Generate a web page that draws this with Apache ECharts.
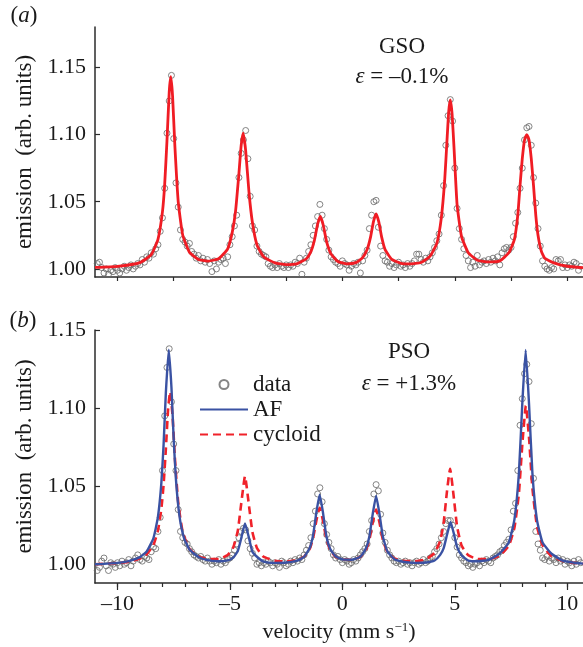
<!DOCTYPE html>
<html><head><meta charset="utf-8">
<script src="https://cdn.jsdelivr.net/npm/echarts@6/dist/echarts.min.js"></script>
<style>html,body{margin:0;padding:0;background:#fff}#c{width:583px;height:647px}</style>
</head><body><div id="c"></div>
<script>
// velocity channels (mm/s) shared by both measured spectra
const velocity = [
-10.9,-10.8,-10.7,-10.6,-10.5,-10.4,-10.3,-10.2,-10.1,-10.0,
-9.9,-9.8,-9.7,-9.6,-9.5,-9.4,-9.3,-9.2,-9.1,-9.0,
-8.9,-8.8,-8.7,-8.6,-8.5,-8.4,-8.3,-8.2,-8.1,-8.0,
-7.9,-7.8,-7.7,-7.6,-7.5,-7.4,-7.3,-7.2,-7.1,-7.0,
-6.9,-6.8,-6.7,-6.6,-6.5,-6.4,-6.3,-6.2,-6.1,-6.0,
-5.9,-5.8,-5.7,-5.6,-5.5,-5.4,-5.3,-5.2,-5.1,-5.0,
-4.9,-4.8,-4.7,-4.6,-4.5,-4.4,-4.3,-4.2,-4.1,-4.0,
-3.9,-3.8,-3.7,-3.6,-3.5,-3.4,-3.3,-3.2,-3.1,-3.0,
-2.9,-2.8,-2.7,-2.6,-2.5,-2.4,-2.3,-2.2,-2.1,-2.0,
-1.9,-1.8,-1.7,-1.6,-1.5,-1.4,-1.3,-1.2,-1.1,-1.0,
-0.9,-0.8,-0.7,-0.6,-0.5,-0.4,-0.3,-0.2,-0.1,0.0,
0.1,0.2,0.3,0.4,0.5,0.6,0.7,0.8,0.9,1.0,
1.1,1.2,1.3,1.4,1.5,1.6,1.7,1.8,1.9,2.0,
2.1,2.2,2.3,2.4,2.5,2.6,2.7,2.8,2.9,3.0,
3.1,3.2,3.3,3.4,3.5,3.6,3.7,3.8,3.9,4.0,
4.1,4.2,4.3,4.4,4.5,4.6,4.7,4.8,4.9,5.0,
5.1,5.2,5.3,5.4,5.5,5.6,5.7,5.8,5.9,6.0,
6.1,6.2,6.3,6.4,6.5,6.6,6.7,6.8,6.9,7.0,
7.1,7.2,7.3,7.4,7.5,7.6,7.7,7.8,7.9,8.0,
8.1,8.2,8.3,8.4,8.5,8.6,8.7,8.8,8.9,9.0,
9.1,9.2,9.3,9.4,9.5,9.6,9.7,9.8,9.9,10.0,
10.1,10.2,10.3,10.4,10.5,10.6];

// (a) GSO measured emission
const gsoData = [
1.004,1.005,1.001,0.997,1.000,0.996,0.999,0.998,1.001,0.999,
0.997,1.000,1.002,0.999,1.001,1.003,1.000,1.002,1.004,1.003,
1.007,1.005,1.009,1.008,1.012,1.011,1.015,1.018,1.028,1.038,
1.060,1.101,1.125,1.144,1.097,1.064,1.046,1.029,1.022,1.020,
1.017,1.019,1.013,1.011,1.008,1.010,1.006,1.008,1.005,1.007,
1.004,0.998,1.006,1.000,1.005,1.007,1.008,1.004,1.009,1.018,
1.024,1.032,1.040,1.068,1.086,1.096,1.103,1.082,1.054,1.032,
1.029,1.017,1.013,1.011,1.010,1.009,1.004,1.002,1.001,1.003,
1.001,1.004,1.002,1.001,1.003,1.001,1.003,1.002,1.005,1.004,
1.008,0.996,1.005,1.008,1.013,1.018,1.025,1.032,1.039,1.048,
1.040,1.030,1.022,1.014,1.009,1.007,1.005,1.004,1.002,1.006,
1.004,1.003,0.999,1.002,1.004,1.003,1.005,0.997,1.006,1.010,
1.014,1.030,1.040,1.050,1.051,1.031,1.017,1.010,1.006,1.005,
1.002,1.004,1.001,1.003,1.005,1.002,1.003,1.001,1.004,1.002,
1.004,1.006,1.011,1.011,1.007,1.005,1.008,1.006,1.009,1.012,
1.016,1.021,1.026,1.040,1.062,1.092,1.114,1.126,1.110,1.075,
1.045,1.030,1.022,1.015,1.010,1.006,1.001,1.005,1.002,1.010,
1.003,1.005,1.006,1.004,1.007,1.005,1.008,1.006,1.009,1.003,
1.012,1.015,1.016,1.014,1.016,1.024,1.034,1.042,1.060,1.075,
1.096,1.105,1.106,1.092,1.068,1.049,1.030,1.017,1.006,1.002,
1.000,0.999,1.001,1.000,1.007,1.006,1.007,1.001,1.003,1.001,
1.003,1.002,1.005,1.004,0.999,1.002];

// (b) PSO measured emission
const psoData = [
0.996,0.998,1.002,1.004,0.999,0.996,1.001,1.000,0.998,1.001,
0.999,1.002,1.000,1.001,1.003,0.999,1.002,1.004,1.006,1.003,
1.002,1.005,1.004,1.003,1.008,1.011,1.010,1.021,1.030,1.060,
1.095,1.126,1.138,1.104,1.077,1.060,1.035,1.021,1.017,1.014,
1.013,1.010,1.008,1.006,1.005,1.004,1.005,1.003,1.002,1.004,
1.002,1.000,1.002,1.001,1.003,1.000,1.002,1.001,1.003,1.004,
1.006,1.009,1.013,1.017,1.021,1.023,1.022,1.015,1.010,1.007,
1.004,1.000,1.001,0.999,1.001,1.000,1.002,1.001,0.999,1.001,
1.000,0.998,1.002,1.001,0.999,1.000,1.002,1.001,1.003,1.002,
1.004,1.003,1.006,1.009,1.012,1.017,1.026,1.034,1.045,1.049,
1.040,1.026,1.019,1.014,1.010,1.006,1.004,1.005,1.003,1.001,
1.003,1.002,1.000,1.001,1.003,1.002,1.004,1.006,1.008,1.010,
1.013,1.021,1.028,1.045,1.051,1.047,1.032,1.020,1.014,1.009,
1.006,1.004,1.002,1.001,1.002,1.000,1.001,1.002,1.000,1.001,
0.999,1.001,1.002,1.000,1.001,1.003,1.001,1.002,1.004,1.005,
1.008,1.010,1.013,1.017,1.021,1.026,1.028,1.028,1.025,1.017,
1.011,1.006,1.004,1.002,1.001,0.999,1.000,0.998,1.000,1.001,
0.999,1.002,1.001,1.003,1.002,1.001,1.004,1.005,1.006,1.008,
1.009,1.012,1.014,1.016,1.022,1.034,1.039,1.060,1.089,1.106,
1.122,1.128,1.117,1.090,1.055,1.021,1.013,1.009,1.004,1.003,
1.005,1.002,1.004,1.003,1.001,1.004,1.002,1.003,1.000,1.002,
1.001,0.999,1.002,1.000,1.003,1.001];

// fitted curves [velocity, emission]
const gsoFit = [[-11,1.0011],[-10,1.0019],[-9,1.0047],[-8.5,1.0106],[-8.2,1.022],[-8,1.0426],[-7.9,1.0633],[-7.8,1.0952],[-7.7,1.1315],[-7.63,1.143],[-7.55,1.1285],[-7.45,1.092],[-7.3,1.0501],[-7.1,1.0252],[-6.8,1.0124],[-6.4,1.0071],[-6,1.0058],[-5.5,1.0076],[-5.1,1.015],[-4.9,1.027],[-4.75,1.043],[-4.6,1.071],[-4.5,1.092],[-4.41,1.101],[-4.3,1.088],[-4.15,1.0565],[-4,1.0345],[-3.8,1.018],[-3.5,1.009],[-3,1.0045],[-2.5,1.0032],[-2,1.004],[-1.6,1.0076],[-1.4,1.0129],[-1.25,1.0209],[-1.1,1.0333],[-0.98,1.039],[-0.85,1.0325],[-0.7,1.0202],[-0.5,1.011],[-0.2,1.0055],[0.2,1.0038],[0.6,1.0047],[0.9,1.0084],[1.1,1.0144],[1.25,1.0235],[1.38,1.035],[1.5,1.041],[1.62,1.035],[1.75,1.0235],[1.9,1.0144],[2.2,1.0071],[2.6,1.0042],[3,1.0037],[3.5,1.0048],[3.9,1.0095],[4.2,1.019],[4.4,1.038],[4.55,1.066],[4.65,1.095],[4.73,1.1174],[4.8,1.1258],[4.88,1.115],[4.97,1.0884],[5.1,1.048],[5.3,1.024],[5.6,1.012],[6,1.0065],[6.5,1.0052],[7,1.006],[7.4,1.012],[7.65,1.022],[7.8,1.04],[7.9,1.062],[8,1.082],[8.1,1.096],[8.2,1.1],[8.3,1.096],[8.4,1.082],[8.5,1.062],[8.6,1.04],[8.7,1.025],[8.85,1.013],[9,1.008],[9.4,1.0045],[10,1.002],[10.7,1.001]];

const psoAF = [[-11,1.0],[-10,1.0009],[-9.5,1.002],[-9,1.0046],[-8.7,1.0082],[-8.4,1.0168],[-8.2,1.0305],[-8.05,1.052],[-7.95,1.0766],[-7.85,1.1096],[-7.72,1.1374],[-7.6,1.1131],[-7.5,1.0797],[-7.4,1.0542],[-7.25,1.0315],[-7.05,1.0172],[-6.8,1.0094],[-6.4,1.0046],[-6,1.0026],[-5.5,1.0019],[-5.1,1.0025],[-4.85,1.0043],[-4.65,1.0085],[-4.5,1.0165],[-4.33,1.0261],[-4.15,1.0166],[-4,1.008],[-3.8,1.0048],[-3.5,1.0017],[-3,1.0009],[-2.5,1.0011],[-2,1.0023],[-1.7,1.0048],[-1.45,1.0106],[-1.3,1.0188],[-1.15,1.0338],[-1.01,1.0446],[-0.87,1.0338],[-0.72,1.0188],[-0.55,1.0101],[-0.3,1.005],[0,1.0031],[0.4,1.0029],[0.8,1.0048],[1.05,1.0102],[1.2,1.0178],[1.35,1.0322],[1.5,1.0438],[1.65,1.0322],[1.8,1.0178],[2,1.0083],[2.3,1.0034],[2.7,1.0016],[3.2,1.0009],[3.7,1.0011],[4.1,1.0024],[4.35,1.006],[4.5,1.0101],[4.65,1.0187],[4.81,1.0271],[4.97,1.0188],[5.1,1.0111],[5.3,1.0057],[5.6,1.0024],[6,1.0019],[6.5,1.0028],[7,1.007],[7.4,1.014],[7.65,1.0286],[7.85,1.0584],[8,1.1027],[8.15,1.1372],[8.3,1.1027],[8.45,1.0584],[8.65,1.0286],[8.9,1.014],[9.3,1.0068],[9.8,1.0023],[10.3,1.001],[10.7,1.0004]];

const psoCycloid = [[-11,1.0],[-10,1.0008],[-9.5,1.0016],[-9,1.0037],[-8.7,1.0064],[-8.4,1.0124],[-8.2,1.0216],[-8.05,1.0354],[-7.95,1.0509],[-7.85,1.0736],[-7.75,1.0993],[-7.66,1.1105],[-7.55,1.0947],[-7.45,1.0686],[-7.3,1.0396],[-7.1,1.0205],[-6.8,1.0098],[-6.4,1.005],[-6,1.0034],[-5.5,1.0034],[-5.1,1.0059],[-4.85,1.0109],[-4.65,1.0215],[-4.5,1.0386],[-4.33,1.0563],[-4.15,1.0372],[-4,1.0206],[-3.8,1.0104],[-3.5,1.0048],[-3,1.0023],[-2.5,1.0018],[-2,1.0027],[-1.7,1.0049],[-1.45,1.0099],[-1.3,1.0168],[-1.15,1.0284],[-1.01,1.0361],[-0.87,1.0284],[-0.72,1.0168],[-0.55,1.0093],[-0.3,1.0048],[0,1.0031],[0.4,1.0028],[0.8,1.0047],[1.05,1.0093],[1.2,1.0156],[1.35,1.0267],[1.5,1.035],[1.65,1.0267],[1.8,1.0156],[2,1.008],[2.3,1.0037],[2.7,1.0023],[3.2,1.0019],[3.7,1.0031],[4.1,1.0072],[4.35,1.015],[4.5,1.0261],[4.65,1.0465],[4.79,1.0612],[4.95,1.0434],[5.1,1.0242],[5.3,1.012],[5.6,1.0057],[6,1.0034],[6.5,1.0033],[7,1.0056],[7.4,1.0119],[7.65,1.0233],[7.85,1.0454],[8,1.0765],[8.16,1.1015],[8.3,1.0811],[8.45,1.0487],[8.65,1.0246],[8.9,1.0122],[9.3,1.0052],[9.8,1.0021],[10.3,1.0009],[10.7,1.0004]];

// tick positions
const yTicks = [1.00, 1.05, 1.10, 1.15];
const xTicksTop = [-10, -7.5, -5, -2.5, 0, 2.5, 5, 7.5, 10];
const xTicksMajor = [-10, -5, 0, 5, 10];
const xTicksMinor = [-10,-9,-8,-7,-6,-5,-4,-3,-2,-1,0,1,2,3,4,5,6,7,8,9,10];

const FONT = 'Liberation Serif';
const INK = '#1a1a1a';
const AX = '#2b2b2b';
const txt = {fontFamily: FONT, fontSize: 22, color: INK};
const axisLine = {show: true, onZero: false, lineStyle: {color: AX, width: 1.5}};
const tickStyle = {color: AX, width: 1.2};
const fmtX = v => (v < 0 ? '\u2013' + (-v) : String(v));
const dataStyle = {color: 'rgba(255,255,255,0)', borderColor: '#666666', borderWidth: 1};

const chart = echarts.init(document.getElementById('c'), null, {renderer: 'canvas'});
const option = {
  animation: false,
  backgroundColor: '#fff',
  grid: [
    {left: 95, top: 27, width: 488, height: 250, containLabel: false, outerBoundsMode: 'none'},
    {left: 95, top: 330, width: 488, height: 253, containLabel: false, outerBoundsMode: 'none'}
  ],
  xAxis: [
    {type: 'value', gridIndex: 0, min: -11, max: 10.7, position: 'bottom', axisLine,
     axisTick: {show: true, customValues: xTicksTop, length: 4, lineStyle: tickStyle},
     axisLabel: {show: false}, splitLine: {show: false}},
    {type: 'value', gridIndex: 1, min: -11, max: 10.7, position: 'bottom', axisLine,
     axisTick: {show: true, customValues: xTicksMajor, length: 7, lineStyle: tickStyle},
     axisLabel: Object.assign({show: true, customValues: xTicksMajor, formatter: fmtX, margin: 10}, txt),
     splitLine: {show: false},
     name: 'velocity (mm s{sup|\u22121})', nameLocation: 'middle', nameGap: 38,
     nameTextStyle: Object.assign({}, txt, {rich: {sup: {fontFamily: FONT, fontSize: 13, color: INK, verticalAlign: 'top'}}})},
    {type: 'value', gridIndex: 1, min: -11, max: 10.7, position: 'bottom',
     axisLine: {show: false},
     axisTick: {show: true, customValues: xTicksMinor, length: 4, lineStyle: tickStyle},
     axisLabel: {show: false}, splitLine: {show: false}}
  ],
  yAxis: [
    {type: 'value', gridIndex: 0, min: 0.994, max: 1.18, axisLine,
     axisTick: {show: true, customValues: yTicks, inside: true, length: 5, lineStyle: tickStyle},
     axisLabel: Object.assign({show: true, customValues: yTicks, formatter: v => v.toFixed(2), margin: 9}, txt),
     splitLine: {show: false},
     name: 'emission  (arb. units)', nameLocation: 'middle', nameRotate: 90, nameGap: 58,
     nameTextStyle: Object.assign({}, txt, {fontSize: 23})},
    {type: 'value', gridIndex: 1, min: 0.988, max: 1.15, axisLine,
     axisTick: {show: true, customValues: yTicks, inside: true, length: 5, lineStyle: tickStyle},
     axisLabel: Object.assign({show: true, customValues: yTicks, formatter: v => v.toFixed(2), margin: 9}, txt),
     splitLine: {show: false},
     name: 'emission  (arb. units)', nameLocation: 'middle', nameRotate: 90, nameGap: 58,
     nameTextStyle: Object.assign({}, txt, {fontSize: 23})}
  ],
  legend: {
    left: 194, top: 368, orient: 'vertical', itemWidth: 48, itemHeight: 9, itemGap: 2,
    selectedMode: false,
    data: [
      {name: 'data'},
      {name: 'AF', itemStyle: {opacity: 0}},
      {name: 'cycloid', itemStyle: {opacity: 0}}
    ],
    textStyle: {fontFamily: FONT, fontSize: 23, color: INK}
  },
  series: [
    {name: 'GSO data', type: 'scatter', xAxisIndex: 0, yAxisIndex: 0, silent: true,
     data: velocity.map((v, i) => [v, gsoData[i]]), symbol: 'circle', symbolSize: 6, itemStyle: dataStyle},
    {name: 'GSO fit', type: 'line', xAxisIndex: 0, yAxisIndex: 0, silent: true, data: gsoFit,
     showSymbol: false, symbol: 'none', smooth: 0.15, lineStyle: {color: '#f01c24', width: 2.8}},
    {name: 'data', type: 'scatter', xAxisIndex: 1, yAxisIndex: 1, silent: true,
     data: velocity.map((v, i) => [v, psoData[i]]), symbol: 'circle', symbolSize: 6, itemStyle: dataStyle},
    {name: 'cycloid', type: 'line', xAxisIndex: 1, yAxisIndex: 1, silent: true, data: psoCycloid,
     showSymbol: false, symbol: 'none', smooth: 0.15, itemStyle: {color: '#f0222a'},
     lineStyle: {color: '#f0222a', width: 2.6, type: [8, 5]}},
    {name: 'AF', type: 'line', xAxisIndex: 1, yAxisIndex: 1, silent: true, data: psoAF,
     showSymbol: false, symbol: 'none', smooth: 0.15, itemStyle: {color: '#3a52a3'},
     lineStyle: {color: '#3a52a3', width: 2.4}}
  ],
  graphic: [
    {type: 'text', x: 24, y: 16, style: {text: '({i|a})', fontFamily: FONT, fontSize: 23, fill: INK, align: 'center', verticalAlign: 'middle',
      rich: {i: {fontFamily: FONT, fontSize: 23, fontStyle: 'italic', fill: INK}}}},
    {type: 'text', x: 23, y: 321, style: {text: '({i|b})', fontFamily: FONT, fontSize: 23, fill: INK, align: 'center', verticalAlign: 'middle',
      rich: {i: {fontFamily: FONT, fontSize: 23, fontStyle: 'italic', fill: INK}}}},
    {type: 'text', x: 402, y: 47, style: {text: 'GSO', fontFamily: FONT, fontSize: 23, fill: INK, align: 'center', verticalAlign: 'middle'}},
    {type: 'text', x: 402, y: 77, style: {text: '{i|\u03b5} = \u20130.1%', fontFamily: FONT, fontSize: 23, fill: INK, align: 'center', verticalAlign: 'middle',
      rich: {i: {fontFamily: FONT, fontSize: 23, fontStyle: 'italic', fill: INK}}}},
    {type: 'text', x: 409, y: 352, style: {text: 'PSO', fontFamily: FONT, fontSize: 23, fill: INK, align: 'center', verticalAlign: 'middle'}},
    {type: 'text', x: 409, y: 384, style: {text: '{i|\u03b5} = +1.3%', fontFamily: FONT, fontSize: 23, fill: INK, align: 'center', verticalAlign: 'middle',
      rich: {i: {fontFamily: FONT, fontSize: 23, fontStyle: 'italic', fill: INK}}}}
  ]
};
chart.setOption(option);
</script>
</body></html>
